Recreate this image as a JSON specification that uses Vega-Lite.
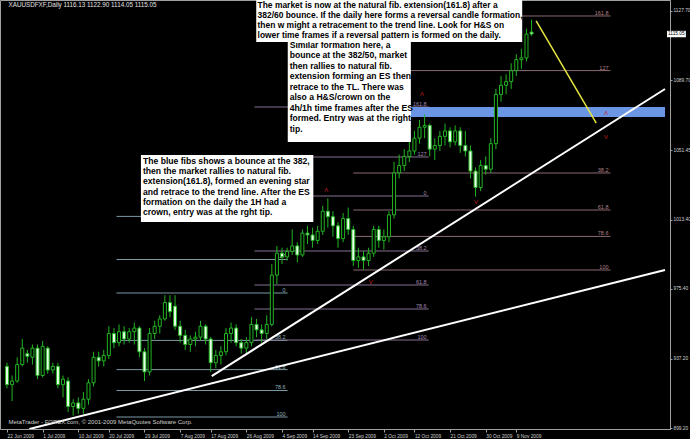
{
  "$schema": "https://vega.github.io/schema/vega-lite/v6.json",
  "width": 670,
  "height": 429,
  "autosize": {"type": "none"},
  "padding": {"left": 0, "top": 0, "right": 20, "bottom": 10},
  "background": "black",
  "config": {
    "view": {"stroke": "#a0a0a0", "strokeWidth": 1},
    "axis": {"labelColor": "#d0d0d0", "labelFont": "Liberation Sans", "labelFontSize": 4.8, "domainColor": "#a0a0a0", "tickColor": "#a0a0a0", "grid": false, "title": null, "labelOverlap": false, "labelSeparation": 0, "labelFlush": false, "labelBound": false}
  },
  "datasets": {
    "candles": [
      {"i":0,"date":"22 Jun 2009","open":933,"high":935,"low":921,"close":923},
      {"i":1,"date":"23 Jun 2009","open":923,"high":928,"low":914,"close":925},
      {"i":2,"date":"24 Jun 2009","open":925,"high":938,"low":924,"close":934},
      {"i":3,"date":"25 Jun 2009","open":934,"high":948,"low":933,"close":943},
      {"i":4,"date":"26 Jun 2009","open":940,"high":942,"low":935,"close":938.5},
      {"i":5,"date":"29 Jun 2009","open":938,"high":945,"low":934,"close":943},
      {"i":6,"date":"30 Jun 2009","open":943,"high":945,"low":926,"close":928},
      {"i":7,"date":"1 Jul 2009","open":928,"high":947,"low":927,"close":944},
      {"i":8,"date":"2 Jul 2009","open":943,"high":944,"low":929,"close":931},
      {"i":9,"date":"3 Jul 2009","open":931,"high":935,"low":929,"close":933},
      {"i":10,"date":"6 Jul 2009","open":933,"high":935,"low":921,"close":923},
      {"i":11,"date":"7 Jul 2009","open":923,"high":928,"low":916,"close":926},
      {"i":12,"date":"8 Jul 2009","open":925,"high":927,"low":908,"close":911},
      {"i":13,"date":"9 Jul 2009","open":911,"high":915,"low":906,"close":913},
      {"i":14,"date":"10 Jul 2009","open":913,"high":916,"low":907,"close":910},
      {"i":15,"date":"13 Jul 2009","open":910,"high":919,"low":907,"close":915},
      {"i":16,"date":"14 Jul 2009","open":915,"high":926,"low":912,"close":924},
      {"i":17,"date":"15 Jul 2009","open":924,"high":941,"low":922,"close":938},
      {"i":18,"date":"16 Jul 2009","open":938,"high":941,"low":933,"close":936},
      {"i":19,"date":"17 Jul 2009","open":936,"high":942,"low":933,"close":939},
      {"i":20,"date":"20 Jul 2009","open":939,"high":955,"low":937,"close":951},
      {"i":21,"date":"21 Jul 2009","open":951,"high":954,"low":943,"close":946},
      {"i":22,"date":"22 Jul 2009","open":946,"high":956,"low":944,"close":952},
      {"i":23,"date":"23 Jul 2009","open":952,"high":955,"low":945,"close":948},
      {"i":24,"date":"24 Jul 2009","open":948,"high":954,"low":946,"close":952},
      {"i":25,"date":"27 Jul 2009","open":952,"high":957,"low":945,"close":954},
      {"i":26,"date":"28 Jul 2009","open":954,"high":955,"low":938,"close":941},
      {"i":27,"date":"29 Jul 2009","open":941,"high":943,"low":925,"close":930},
      {"i":28,"date":"30 Jul 2009","open":930,"high":954,"low":928,"close":951},
      {"i":29,"date":"31 Jul 2009","open":951,"high":958,"low":948,"close":955},
      {"i":30,"date":"3 Aug 2009","open":955,"high":961,"low":951,"close":959},
      {"i":31,"date":"4 Aug 2009","open":959,"high":972,"low":958,"close":968},
      {"i":32,"date":"5 Aug 2009","open":968,"high":972,"low":960,"close":963},
      {"i":33,"date":"6 Aug 2009","open":966,"high":972,"low":953,"close":955},
      {"i":34,"date":"7 Aug 2009","open":955,"high":958,"low":946,"close":950},
      {"i":35,"date":"10 Aug 2009","open":950,"high":953,"low":942,"close":945},
      {"i":36,"date":"11 Aug 2009","open":945,"high":950,"low":941,"close":948},
      {"i":37,"date":"12 Aug 2009","open":948,"high":952,"low":944,"close":949},
      {"i":38,"date":"13 Aug 2009","open":949,"high":958,"low":947,"close":955},
      {"i":39,"date":"14 Aug 2009","open":955,"high":956,"low":945,"close":948},
      {"i":40,"date":"17 Aug 2009","open":948,"high":949,"low":930,"close":935},
      {"i":41,"date":"18 Aug 2009","open":935,"high":942,"low":932,"close":939},
      {"i":42,"date":"19 Aug 2009","open":939,"high":944,"low":934,"close":941},
      {"i":43,"date":"20 Aug 2009","open":941,"high":954,"low":939,"close":951},
      {"i":44,"date":"21 Aug 2009","open":951,"high":957,"low":946,"close":954},
      {"i":45,"date":"24 Aug 2009","open":954,"high":956,"low":944,"close":946},
      {"i":46,"date":"25 Aug 2009","open":946,"high":948,"low":940,"close":943},
      {"i":47,"date":"26 Aug 2009","open":943,"high":949,"low":940,"close":946},
      {"i":48,"date":"27 Aug 2009","open":946,"high":960,"low":944,"close":956},
      {"i":49,"date":"28 Aug 2009","open":956,"high":959,"low":949,"close":953},
      {"i":50,"date":"31 Aug 2009","open":953,"high":956,"low":946,"close":951},
      {"i":51,"date":"1 Sep 2009","open":951,"high":961,"low":948,"close":956},
      {"i":52,"date":"2 Sep 2009","open":956,"high":989,"low":955,"close":983},
      {"i":53,"date":"3 Sep 2009","open":983,"high":999,"low":978,"close":995},
      {"i":54,"date":"4 Sep 2009","open":995,"high":998,"low":989,"close":993},
      {"i":55,"date":"7 Sep 2009","open":993,"high":998,"low":991,"close":996},
      {"i":56,"date":"8 Sep 2009","open":996,"high":1008,"low":994,"close":999},
      {"i":57,"date":"9 Sep 2009","open":999,"high":1001,"low":990,"close":994},
      {"i":58,"date":"10 Sep 2009","open":994,"high":1008,"low":993,"close":1006},
      {"i":59,"date":"11 Sep 2009","open":1006,"high":1010,"low":1000,"close":1005},
      {"i":60,"date":"14 Sep 2009","open":1005,"high":1009,"low":998,"close":1002},
      {"i":61,"date":"15 Sep 2009","open":1002,"high":1010,"low":1000,"close":1007},
      {"i":62,"date":"16 Sep 2009","open":1007,"high":1021,"low":1005,"close":1018},
      {"i":63,"date":"17 Sep 2009","open":1018,"high":1025,"low":1009,"close":1015},
      {"i":64,"date":"18 Sep 2009","open":1015,"high":1018,"low":1004,"close":1010},
      {"i":65,"date":"21 Sep 2009","open":1010,"high":1012,"low":998,"close":1003},
      {"i":66,"date":"22 Sep 2009","open":1003,"high":1017,"low":1001,"close":1014},
      {"i":67,"date":"23 Sep 2009","open":1014,"high":1020,"low":1005,"close":1008},
      {"i":68,"date":"24 Sep 2009","open":1008,"high":1010,"low":988,"close":991},
      {"i":69,"date":"25 Sep 2009","open":991,"high":998,"low":987,"close":993},
      {"i":70,"date":"28 Sep 2009","open":993,"high":996,"low":986,"close":991},
      {"i":71,"date":"29 Sep 2009","open":991,"high":998,"low":988,"close":995},
      {"i":72,"date":"30 Sep 2009","open":995,"high":1010,"low":993,"close":1008},
      {"i":73,"date":"1 Oct 2009","open":1008,"high":1010,"low":998,"close":1002},
      {"i":74,"date":"2 Oct 2009","open":1002,"high":1008,"low":997,"close":1004},
      {"i":75,"date":"5 Oct 2009","open":1004,"high":1018,"low":1001,"close":1016},
      {"i":76,"date":"6 Oct 2009","open":1016,"high":1045,"low":1014,"close":1039},
      {"i":77,"date":"7 Oct 2009","open":1039,"high":1049,"low":1036,"close":1043},
      {"i":78,"date":"8 Oct 2009","open":1043,"high":1052,"low":1040,"close":1048},
      {"i":79,"date":"9 Oct 2009","open":1048,"high":1057,"low":1045,"close":1051},
      {"i":80,"date":"12 Oct 2009","open":1051,"high":1062,"low":1049,"close":1058},
      {"i":81,"date":"13 Oct 2009","open":1058,"high":1068,"low":1055,"close":1064},
      {"i":82,"date":"14 Oct 2009","open":1064,"high":1071,"low":1058,"close":1065},
      {"i":83,"date":"15 Oct 2009","open":1065,"high":1066,"low":1048,"close":1052},
      {"i":84,"date":"16 Oct 2009","open":1052,"high":1058,"low":1046,"close":1054},
      {"i":85,"date":"19 Oct 2009","open":1054,"high":1062,"low":1051,"close":1059},
      {"i":86,"date":"20 Oct 2009","open":1059,"high":1066,"low":1054,"close":1062},
      {"i":87,"date":"21 Oct 2009","open":1062,"high":1064,"low":1053,"close":1056},
      {"i":88,"date":"22 Oct 2009","open":1056,"high":1065,"low":1054,"close":1062},
      {"i":89,"date":"23 Oct 2009","open":1062,"high":1064,"low":1050,"close":1054},
      {"i":90,"date":"26 Oct 2009","open":1054,"high":1062,"low":1048,"close":1051},
      {"i":91,"date":"27 Oct 2009","open":1051,"high":1054,"low":1036,"close":1040},
      {"i":92,"date":"28 Oct 2009","open":1040,"high":1042,"low":1026,"close":1031},
      {"i":93,"date":"29 Oct 2009","open":1031,"high":1046,"low":1029,"close":1043},
      {"i":94,"date":"30 Oct 2009","open":1043,"high":1048,"low":1038,"close":1041},
      {"i":95,"date":"2 Nov 2009","open":1041,"high":1058,"low":1039,"close":1055},
      {"i":96,"date":"3 Nov 2009","open":1055,"high":1085,"low":1052,"close":1082},
      {"i":97,"date":"4 Nov 2009","open":1082,"high":1092,"low":1078,"close":1087},
      {"i":98,"date":"5 Nov 2009","open":1087,"high":1093,"low":1082,"close":1089},
      {"i":99,"date":"6 Nov 2009","open":1089,"high":1099,"low":1085,"close":1095},
      {"i":100,"date":"9 Nov 2009","open":1095,"high":1104,"low":1092,"close":1101},
      {"i":101,"date":"10 Nov 2009","open":1101,"high":1107,"low":1096,"close":1102},
      {"i":102,"date":"11 Nov 2009","open":1102,"high":1118,"low":1100,"close":1115},
      {"i":103,"date":"12 Nov 2009","open":1116.13,"high":1122.9,"low":1114.05,"close":1115.05}
    ],
    "fibs": [
      {"set":"a","i1":21.5,"i2":55.1,"price":1015.16,"label":"161.8"},
      {"set":"a","i1":21.5,"i2":55.1,"price":991.55,"label":"127"},
      {"set":"a","i1":21.5,"i2":55.1,"price":973.2,"label":"0"},
      {"set":"a","i1":21.5,"i2":55.1,"price":947.23,"label":"38.2"},
      {"set":"a","i1":21.5,"i2":55.1,"price":931.23,"label":"61.8"},
      {"set":"a","i1":21.5,"i2":55.1,"price":919.79,"label":"78.6"},
      {"set":"a","i1":21.5,"i2":55.1,"price":905.27,"label":"100"},
      {"set":"b","i1":48.6,"i2":82.8,"price":1075.09,"label":"161.8"},
      {"set":"b","i1":48.6,"i2":82.8,"price":1047.69,"label":"127"},
      {"set":"b","i1":48.6,"i2":82.8,"price":1026.33,"label":"0"},
      {"set":"b","i1":48.6,"i2":82.8,"price":996.2,"label":"38.2"},
      {"set":"b","i1":48.6,"i2":82.8,"price":977.58,"label":"61.8"},
      {"set":"b","i1":48.6,"i2":82.8,"price":964.43,"label":"78.6"},
      {"set":"b","i1":48.6,"i2":82.8,"price":947.45,"label":"100"},
      {"set":"c","i1":68,"i2":118.5,"price":1124.94,"label":"161.8"},
      {"set":"c","i1":68,"i2":118.5,"price":1095.03,"label":"127"},
      {"set":"c","i1":68,"i2":118.5,"price":1071.8,"label":"0"},
      {"set":"c","i1":68,"i2":118.5,"price":1038.93,"label":"38.2"},
      {"set":"c","i1":68,"i2":118.5,"price":1018.66,"label":"61.8"},
      {"set":"c","i1":68,"i2":118.5,"price":1004.2,"label":"78.6"},
      {"set":"c","i1":68,"i2":118.5,"price":985.79,"label":"100"}
    ],
    "markers": [
      {"i":81.5,"price":1082.0,"glyph":"Λ"},
      {"i":62.7,"price":1029.5,"glyph":"Λ"},
      {"i":71.4,"price":979.0,"glyph":"V"},
      {"i":92.1,"price":1023.0,"glyph":"V"},
      {"i":117.6,"price":1071.8,"glyph":"Λ"},
      {"i":117.6,"price":1058.8,"glyph":"V"}
    ],
    "trend": [
      {"line":"A","i":4.4,"price":898.7},
      {"line":"A","i":129.2,"price":985.8},
      {"line":"B","i":40.2,"price":927.7},
      {"line":"B","i":129.2,"price":1084.95},
      {"line":"C","i":103.9,"price":1122.2},
      {"line":"C","i":115.7,"price":1066.3}
    ]
  },
  "layer": [
    {
      "data": {"values": [{}]},
      "mark": {"type": "rect", "color": "#6b96e6", "opacity": 0},
      "encoding": {
        "x": {"datum": 70, "type": "quantitative", "scale": {"domain": [-0.39, 129.2], "nice": false, "zero": false},
          "axis": {"orient": "bottom", "values": [0,7,14,20,27,34,40,47,54,60,67,74,80,87,94,100], "labelAlign": "left", "labelPadding": 1, "tickSize": 3,
            "labelExpr": "['22 Jun 2009','1 Jul 2009','10 Jul 2009','20 Jul 2009','29 Jul 2009','7 Aug 2009','17 Aug 2009','26 Aug 2009','4 Sep 2009','14 Sep 2009','23 Sep 2009','2 Oct 2009','12 Oct 2009','21 Oct 2009','30 Oct 2009','9 Nov 2009'][indexof([0,7,14,20,27,34,40,47,54,60,67,74,80,87,94,100], datum.value)]"}},
        "x2": {"datum": 129.2},
        "y": {"datum": 1075.1, "type": "quantitative", "scale": {"domain": [898.7, 1133.7], "nice": false, "zero": false},
          "axis": {"orient": "right", "values": [899.2,908.7,918.2,927.7,937.2,946.7,956.2,965.7,975.4,984.9,994.4,1003.9,1013.4,1022.95,1032.45,1041.95,1051.45,1061.2,1070.7,1080.2,1089.7,1099.2,1108.7,1118.2,1127.7], "format": ".2f", "tickSize": 2, "labelPadding": 1}},
        "y2": {"datum": 1069.6}
      }
    },
    {
      "data": {"name": "fibs"},
      "transform": [{"filter": "datum.set == 'a'"}],
      "layer": [
        {"mark": {"type": "rule", "strokeWidth": 1, "color": "#7a9aa6"},
         "encoding": {"x": {"field": "i1", "type": "quantitative"}, "x2": {"field": "i2"}, "y": {"field": "price", "type": "quantitative"}}},
        {"transform": [{"filter": "datum.label != '161.8'"}],
         "mark": {"type": "text", "align": "right", "baseline": "bottom", "fontSize": 5.5, "font": "Liberation Sans", "dx": -2, "color": "#8fb0bc"},
         "encoding": {"x": {"field": "i2", "type": "quantitative"}, "y": {"field": "price", "type": "quantitative"}, "text": {"field": "label"}}}
      ]
    },
    {
      "data": {"name": "fibs"},
      "transform": [{"filter": "datum.set == 'b'"}],
      "layer": [
        {"mark": {"type": "rule", "strokeWidth": 1, "color": "#84708e"},
         "encoding": {"x": {"field": "i1", "type": "quantitative"}, "x2": {"field": "i2"}, "y": {"field": "price", "type": "quantitative"}}},
        {"mark": {"type": "text", "align": "right", "baseline": "bottom", "fontSize": 5.5, "font": "Liberation Sans", "dx": -2, "color": "#a088b0"},
         "encoding": {"x": {"field": "i2", "type": "quantitative"}, "y": {"field": "price", "type": "quantitative"}, "text": {"field": "label"}}}
      ]
    },
    {
      "data": {"name": "fibs"},
      "transform": [{"filter": "datum.set == 'c'"}],
      "layer": [
        {"mark": {"type": "rule", "strokeWidth": 1, "color": "#8c6a70"},
         "encoding": {"x": {"field": "i1", "type": "quantitative"}, "x2": {"field": "i2"}, "y": {"field": "price", "type": "quantitative"}}},
        {"transform": [{"filter": "datum.label != '0'"}],
         "mark": {"type": "text", "align": "right", "baseline": "bottom", "fontSize": 5.5, "font": "Liberation Sans", "dx": -2, "color": "#b08088"},
         "encoding": {"x": {"field": "i2", "type": "quantitative"}, "y": {"field": "price", "type": "quantitative"}, "text": {"field": "label"}}}
      ]
    },
    {
      "data": {"values": [{}]},
      "mark": {"type": "rect", "color": "#6b96e6"},
      "encoding": {"x": {"datum": 78}, "x2": {"datum": 129.2}, "y": {"datum": 1075.1}, "y2": {"datum": 1069.6}}
    },
    {
      "data": {"name": "markers"},
      "mark": {"type": "text", "fontSize": 6, "font": "Liberation Sans", "color": "#c42020", "baseline": "middle"},
      "encoding": {"x": {"field": "i", "type": "quantitative"}, "y": {"field": "price", "type": "quantitative"}, "text": {"field": "glyph"}}
    },
    {
      "data": {"name": "candles"},
      "mark": {"type": "rule", "color": "#22b422", "strokeWidth": 1},
      "encoding": {
        "x": {"field": "i", "type": "quantitative"},
        "y": {"field": "low", "type": "quantitative"},
        "y2": {"field": "high"}
      }
    },
    {
      "data": {"name": "candles"},
      "mark": {"type": "bar", "size": 3, "stroke": "#22b422", "strokeWidth": 1},
      "encoding": {
        "x": {"field": "i", "type": "quantitative"},
        "y": {"field": "open", "type": "quantitative"},
        "y2": {"field": "close"},
        "fill": {"condition": {"test": "datum.close < datum.open", "value": "#e8ffe8"}, "value": "black"}
      }
    },
    {
      "data": {"name": "trend"},
      "transform": [{"filter": "datum.line != 'C'"}],
      "mark": {"type": "line", "strokeWidth": 2, "color": "white", "clip": true},
      "encoding": {
        "x": {"field": "i", "type": "quantitative"},
        "y": {"field": "price", "type": "quantitative"},
        "detail": {"field": "line"}
      }
    },
    {
      "data": {"name": "trend"},
      "transform": [{"filter": "datum.line == 'C'"}],
      "mark": {"type": "line", "strokeWidth": 1.5, "color": "#e6e640", "clip": true},
      "encoding": {
        "x": {"field": "i", "type": "quantitative"},
        "y": {"field": "price", "type": "quantitative"}
      }
    },
    {
      "data": {"values": [{}]},
      "mark": {"type": "rect", "color": "white"},
      "encoding": {"x": {"datum": 55.13}, "x2": {"datum": 79.3}, "y": {"datum": 1110.7}, "y2": {"datum": 1055.9}}
    },
    {
      "data": {"values": [{}]},
      "mark": {"type": "text", "align": "left", "baseline": "top", "font": "Liberation Sans", "fontWeight": "bold", "fontSize": 8.6, "lineHeight": 10.5, "color": "black",
        "text": ["Similar formation here, a", "bounce at the 382/50, market", "then rallies to natural fib.", "extension forming an ES then", "retrace to the TL. There was", "also a H&S/crown on the", "4h/1h time frames after the ES", "formed. Entry was at the right", "tip."]},
      "encoding": {"x": {"datum": 55.5}, "y": {"datum": 1111.4}}
    },
    {
      "data": {"values": [{}]},
      "mark": {"type": "rect", "color": "white"},
      "encoding": {"x": {"datum": 48.94}, "x2": {"datum": 101.16}, "y": {"datum": 1133.7}, "y2": {"datum": 1110.7}}
    },
    {
      "data": {"values": [{}]},
      "mark": {"type": "text", "align": "left", "baseline": "top", "font": "Liberation Sans", "fontWeight": "bold", "fontSize": 8.45, "lineHeight": 10, "color": "black",
        "text": ["The market is now at the natural fib. extension(161.8) after a", "382/60 bounce. If the daily here forms a reversal candle formation,", "then w might a retracement to the trend line. Look for H&S on", "lower time frames if a reversal pattern is formed on the daily."]},
      "encoding": {"x": {"datum": 49.2}, "y": {"datum": 1133.4}}
    },
    {
      "data": {"values": [{}]},
      "mark": {"type": "rect", "color": "white"},
      "encoding": {"x": {"datum": 26.3}, "x2": {"datum": 60.15}, "y": {"datum": 1048.8}, "y2": {"datum": 1012.1}}
    },
    {
      "data": {"values": [{}]},
      "mark": {"type": "text", "align": "left", "baseline": "top", "font": "Liberation Sans", "fontWeight": "bold", "fontSize": 8.6, "lineHeight": 10.3, "color": "black",
        "text": ["The blue fibs shows a bounce at the 382,", "then the market rallies to natural fib.", "extension(161.8), formed an evening star", "and retrace to the trend line. After the ES", "formation on the daily the 1H had a", "crown, entry was at the rght tip."]},
      "encoding": {"x": {"datum": 26.7}, "y": {"datum": 1047.8}}
    },
    {
      "data": {"values": [{}]},
      "mark": {"type": "text", "align": "left", "baseline": "middle", "font": "Liberation Sans", "fontSize": 6.3, "color": "#e0e0e0", "text": "XAUUSDFXF,Daily  1116.13 1122.90 1114.05 1115.05"},
      "encoding": {"x": {"datum": 0.3}, "y": {"datum": 1130.9}}
    },
    {
      "data": {"values": [{}]},
      "mark": {"type": "text", "align": "left", "baseline": "middle", "font": "Liberation Sans", "fontSize": 6, "color": "#d0d0d0", "text": "MetaTrader - FOREX.com, © 2001-2009 MetaQuotes Software Corp."},
      "encoding": {"x": {"datum": 0.3}, "y": {"datum": 902.5}}
    },
    {
      "data": {"values": [{}]},
      "mark": {"type": "rect", "color": "white", "clip": false},
      "encoding": {"x": {"datum": 129.6}, "x2": {"datum": 133.3}, "y": {"datum": 1116.8}, "y2": {"datum": 1113.3}}
    },
    {
      "data": {"values": [{}]},
      "mark": {"type": "text", "align": "left", "baseline": "middle", "font": "Liberation Sans", "fontSize": 4.8, "color": "black", "text": "1115.05"},
      "encoding": {"x": {"datum": 129.8}, "y": {"datum": 1115.05}}
    }
  ]
}
